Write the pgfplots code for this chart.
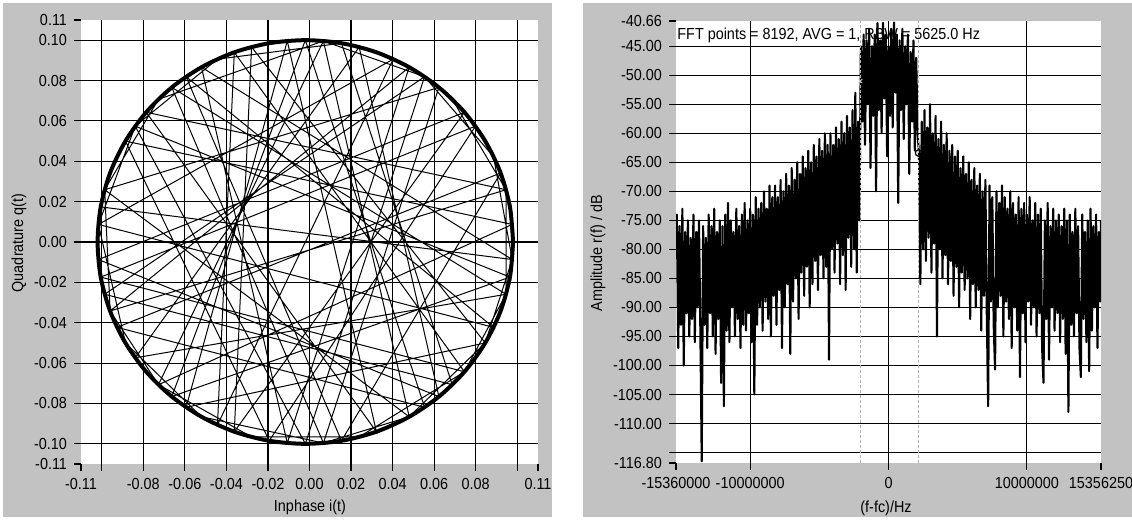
\documentclass[border=0pt]{standalone}
\usepackage{fontspec}
\setmainfont{Liberation Sans}[FakeStretch=0.9]
\usepackage{pgfplots}
\pgfplotsset{compat=1.18}
\definecolor{panel}{HTML}{C2C2C2}
\pgfplotsset{
  labview/.style={
    scale only axis, axis background/.style={fill=white},
    axis line style={draw=none},
    grid=major, grid style={black, line width=0.55bp},
    tick align=outside, major tick length=3.5bp,
    tick style={black, line width=0.55bp},
    xtick pos=left, ytick pos=left,
    tick label style={font=\fontsize{8bp}{9bp}\selectfont},
    extra x tick style={grid=none}, extra y tick style={grid=none},
  }
}
\begin{document}
\begin{tikzpicture}[font=\fontsize{8bp}{9bp}\selectfont]
\useasboundingbox (0,0) rectangle (566bp,260bp);
\fill[white] (0,0) rectangle (566bp,260bp);
\fill[panel] (1.5bp,1.5bp) rectangle (276bp,258.5bp);
\fill[panel] (291.5bp,1.5bp) rectangle (566bp,258.5bp);

% ---- IQ constellation ----
\begin{axis}[labview, at={(40.5bp,28bp)}, anchor=south west,
  width=228.5bp, height=222bp,
  xmin=-0.11, xmax=0.11, ymin=-0.11, ymax=0.11,
  xtick={-0.1,-0.08,-0.06,-0.04,-0.02,0,0.02,0.04,0.06,0.08,0.1},
  xticklabels={{},-0.08,-0.06,-0.04,-0.02,0.00,0.02,0.04,0.06,0.08,{}},
  extra x ticks={-0.11,0.11}, extra x tick labels={-0.11,0.11},
  ytick={-0.1,-0.08,-0.06,-0.04,-0.02,0,0.02,0.04,0.06,0.08,0.1},
  yticklabels={-0.10,-0.08,-0.06,-0.04,-0.02,0.00,0.02,0.04,0.06,0.08,0.10},
  extra y ticks={-0.11,0.11}, extra y tick labels={-0.11,0.11},
]
% chords of the trajectory
\addplot[black, line width=0.5bp] coordinates {
(-0.1005,0.0174) (0.0976,-0.0087) (-0.0520,0.0866) (-0.0107,-0.0996)
(0.0480,0.0866) (-0.0960,-0.0342) (0.0946,0.0259) (-0.0786,0.0643)
(0.0322,-0.0940) (-0.0107,0.0996) (-0.0594,-0.0819) (0.0846,-0.0500)
(-0.0279,0.0966) (-0.0362,-0.0940) (0.0746,0.0643) (-0.1016,-0.0087)
(0.0623,-0.0766) (0.0239,0.0966) (-0.0839,-0.0574) (0.0946,-0.0259)
(-0.0663,0.0766) (0.0067,-0.0996) (0.0623,0.0766) (-0.0986,0.0259)
(0.0480,-0.0866) (0.0067,0.0996) (-0.0727,-0.0707) (0.0976,0.0087)
(-0.0886,0.0500) (-0.0194,-0.0985) (0.0799,0.0574) (-0.1005,-0.0174)
(0.0746,-0.0643) (-0.0362,0.0940) (-0.0443,-0.0906) (0.0403,0.0906)
(-0.1016,0.0087) (0.0886,-0.0423) (-0.0594,0.0819) (0.0154,-0.0985)
(0.0920,0.0342) (-0.0926,-0.0423) (0.0554,-0.0819) (-0.0020,0.1000)
(-0.0663,-0.0766) (0.0965,-0.0174) (-0.0839,0.0574) (-0.0020,-0.1000)
(0.0554,0.0819) (-0.0986,-0.0259) (0.0687,-0.0707) (0.0154,0.0985)
(-0.0443,0.0906) (-0.0839,0.0574) (-0.1016,0.0087) (-0.0886,-0.0500)
(-0.0520,-0.0866) (0.0067,-0.0996) (0.0480,-0.0866) (0.0846,-0.0500)
(0.0976,-0.0087) (0.0886,0.0423) (0.0554,0.0819) (0.0067,0.0996)
(-0.0727,0.0707) (-0.0986,0.0259) (-0.0960,-0.0342) (-0.0727,-0.0707)
(-0.0279,-0.0966) (0.0239,-0.0966) (0.0746,-0.0643) (0.0946,-0.0259)
(0.0946,0.0259) (0.0687,0.0707)
};
% the constant-envelope ring
\addplot[black, line width=2bp, smooth] coordinates {
(0.0980,0.0000) (0.0965,0.0174) (0.0920,0.0342) (0.0846,0.0500)
(0.0746,0.0643) (0.0623,0.0766) (0.0480,0.0866) (0.0322,0.0940)
(0.0154,0.0985) (-0.0020,0.1000) (-0.0194,0.0985) (-0.0362,0.0940)
(-0.0520,0.0866) (-0.0663,0.0766) (-0.0786,0.0643) (-0.0886,0.0500)
(-0.0960,0.0342) (-0.1005,0.0174) (-0.1020,0.0000) (-0.1005,-0.0174)
(-0.0960,-0.0342) (-0.0886,-0.0500) (-0.0786,-0.0643) (-0.0663,-0.0766)
(-0.0520,-0.0866) (-0.0362,-0.0940) (-0.0194,-0.0985) (-0.0020,-0.1000)
(0.0154,-0.0985) (0.0322,-0.0940) (0.0480,-0.0866) (0.0623,-0.0766)
(0.0746,-0.0643) (0.0846,-0.0500) (0.0920,-0.0342) (0.0965,-0.0174)
(0.0980,0.0000)
};
\end{axis}

% ---- spectrum (x in MHz, labelled in Hz) ----
\begin{axis}[labview, at={(338bp,28.5bp)}, anchor=south west,
  width=212.5bp, height=221bp,
  xmin=-15.36, xmax=15.35625, ymin=-116.8, ymax=-40.66,
  xtick={-10,0,10}, xticklabels={-10000000,0,10000000},
  extra x ticks={-15.36,15.35625}, extra x tick labels={-15360000,15356250},
  ytick={-115,-110,-105,-100,-95,-90,-85,-80,-75,-70,-65,-60,-55,-50,-45},
  yticklabels={{},-110.00,-105.00,-100.00,-95.00,-90.00,-85.00,-80.00,-75.00,-70.00,-65.00,-60.00,-55.00,-50.00,-45.00},
  extra y ticks={-116.8,-40.66}, extra y tick labels={-116.80,-40.66},
]
\node[anchor=west, inner sep=0.5bp] at (rel axis cs:0,0.967) {FFT points = 8192, AVG = 1, RBW = 5625.0 Hz};
\addplot[black, line width=1.05bp, line join=round] coordinates {
(-15.36,-80)
(-15.3,-74)(-15.2,-97)(-15.1,-76)(-15.0,-93)(-14.9,-73)(-14.8,-100)(-14.7,-77)(-14.6,-91)(-14.5,-75)(-14.4,-95)
(-14.3,-78)(-14.2,-92)(-14.1,-74)(-14.0,-96)(-13.9,-77)(-13.8,-90)(-13.7,-75)(-13.6,-94)(-13.5,-116.5)(-13.4,-76)
(-13.3,-93)(-13.2,-78)(-13.1,-97)(-13.0,-74)(-12.9,-91)(-12.8,-76)(-12.7,-95)(-12.6,-73)(-12.5,-98)(-12.4,-77)
(-12.3,-92)(-12.2,-75)(-12.1,-103)(-12.0,-76)(-11.9,-107)(-11.8,-74)(-11.7,-94)(-11.6,-72)(-11.5,-96)(-11.4,-75)
(-11.3,-90)(-11.2,-77)(-11.1,-95)(-11.0,-73)(-10.9,-92)(-10.8,-76)(-10.7,-97)(-10.6,-74)(-10.5,-93)(-10.4,-72)
(-10.3,-94)(-10.2,-75)(-10.1,-91)(-10.0,-73)(-9.9,-96)(-9.8,-74)(-9.7,-105)(-9.6,-71)(-9.5,-93)(-9.4,-73)
(-9.3,-90)(-9.2,-72)(-9.1,-94)(-9.0,-70)(-8.9,-89)(-8.8,-73)(-8.7,-92)(-8.6,-69)(-8.5,-95)(-8.4,-71)
(-8.3,-88)(-8.2,-69)(-8.1,-93)(-8.0,-71)(-7.9,-87)(-7.8,-68)(-7.7,-97)(-7.6,-70)(-7.5,-90)(-7.4,-67)
(-7.3,-86)(-7.2,-69)(-7.1,-98)(-7.0,-66)(-6.9,-89)(-6.8,-68)(-6.7,-85)(-6.6,-65)(-6.5,-92)(-6.4,-67)
(-6.3,-84)(-6.2,-64)(-6.1,-88)(-6.0,-66)(-5.9,-83)(-5.8,-63)(-5.7,-90)(-5.6,-65)(-5.5,-86)(-5.4,-62)
(-5.3,-82)(-5.2,-64)(-5.1,-87)(-5.0,-61)(-4.9,-81)(-4.8,-63)(-4.7,-85)(-4.6,-60)(-4.5,-83)(-4.4,-62)
(-4.3,-99)(-4.2,-60)(-4.1,-80)(-4.0,-62)(-3.9,-84)(-3.8,-59)(-3.7,-79)(-3.6,-61)(-3.5,-86)(-3.4,-58)
(-3.3,-81)(-3.2,-60)(-3.1,-87)(-3.0,-57)(-2.9,-78)(-2.8,-59)(-2.7,-83)(-2.6,-56)(-2.5,-80)(-2.4,-53)
(-2.3,-84)(-2.2,-58)(-2.1,-75)(-2.0,-45)(-1.9,-58)(-1.8,-43)(-1.7,-62)(-1.6,-44)(-1.5,-55)(-1.4,-42)
(-1.3,-66)(-1.2,-45)(-1.1,-57)(-1.0,-43)(-0.9,-70)(-0.8,-41)(-0.7,-56)(-0.6,-44)(-0.5,-60)(-0.4,-41)
(-0.3,-54)(-0.2,-43)(-0.1,-64)(0.0,-45)(0.1,-57)(0.2,-42)(0.3,-59)(0.4,-40.9)(0.5,-53)(0.6,-43)
(0.7,-72)(0.8,-44)(0.9,-56)(1.0,-42)(1.1,-61)(1.2,-45)(1.3,-55)(1.4,-43)(1.5,-67)(1.6,-46)
(1.7,-58)(1.8,-44)(1.9,-63)(2.0,-47)(2.1,-60)(2.2,-63.4)(2.3,-86)(2.4,-58)(2.5,-80)(2.6,-56)
(2.7,-82)(2.8,-59)(2.9,-78)(3.0,-55)(3.1,-84)(3.2,-60)(3.3,-79)(3.4,-57)(3.5,-95)(3.6,-61)
(3.7,-80)(3.8,-58)(3.9,-85)(4.0,-62)(4.1,-81)(4.2,-60)(4.3,-86)(4.4,-63)(4.5,-82)(4.6,-62)
(4.7,-88)(4.8,-64)(4.9,-83)(5.0,-63)(5.1,-90)(5.2,-66)(5.3,-84)(5.4,-64)(5.5,-87)(5.6,-67)
(5.7,-85)(5.8,-65)(5.9,-92)(6.0,-68)(6.1,-86)(6.2,-66)(6.3,-90)(6.4,-69)(6.5,-87)(6.6,-67)
(6.7,-94)(6.8,-70)(6.9,-88)(7.0,-68)(7.1,-91)(7.2,-107)(7.3,-69)(7.4,-89)(7.5,-71)(7.6,-93)
(7.7,-100.7)(7.8,-70)(7.9,-90)(8.0,-72)(8.1,-88)(8.2,-69)(8.3,-95)(8.4,-71)(8.5,-89)(8.6,-73)
(8.7,-92)(8.8,-70)(8.9,-97)(9.0,-72)(9.1,-90)(9.2,-74)(9.3,-94)(9.4,-71)(9.5,-102)(9.6,-73)
(9.7,-91)(9.8,-72)(9.9,-96)(10.0,-74)(10.1,-89)(10.2,-71)(10.3,-93)(10.4,-75)(10.5,-90)(10.6,-72)
(10.7,-95)(10.8,-74)(10.9,-91)(11.0,-73)(11.1,-97)(11.2,-103)(11.3,-75)(11.4,-92)(11.5,-72)(11.6,-99)
(11.7,-76)(11.8,-90)(11.9,-73)(12.0,-94)(12.1,-75)(12.2,-91)(12.3,-74)(12.4,-96)(12.5,-76)(12.6,-92)
(12.7,-73)(12.8,-98)(12.9,-75)(13.0,-108)(13.1,-74)(13.2,-93)(13.3,-77)(13.4,-95)(13.5,-73)(13.6,-91)
(13.7,-76)(13.8,-97)(13.9,-102)(14.0,-74)(14.1,-92)(14.2,-77)(14.3,-96)(14.4,-75)(14.5,-101)(14.6,-73)
(14.7,-94)(14.8,-76)(14.9,-90)(15.0,-74)(15.1,-97)(15.2,-77)(15.3,-89)(15.356,-75)
};
% cursors
\addplot[gray!60, line width=0.6bp, dash pattern=on 1.5bp off 1bp] coordinates {(-2.05,-116.8) (-2.05,-40.66)};
\addplot[gray!60, line width=0.6bp, dash pattern=on 1.5bp off 1bp] coordinates {(2.17,-116.8) (2.17,-40.66)};
\addplot[only marks, mark=x, mark size=1.5bp, gray!40] coordinates {(-2.05,-51)};
\addplot[only marks, mark=o, mark size=1.6bp, draw=black, fill=white, line width=0.6bp] coordinates {(2.17,-63.4)};
\end{axis}

% axis titles
\node[rotate=90] at (9.5bp,138.5bp) {Quadrature q(t)};
\node at (155bp,6.5bp) {Inphase i(t)};
\node[rotate=90] at (299bp,133.5bp) {Amplitude r(f) / dB};
\node at (443bp,6bp) {(f-fc)/Hz};
\end{tikzpicture}
\end{document}
